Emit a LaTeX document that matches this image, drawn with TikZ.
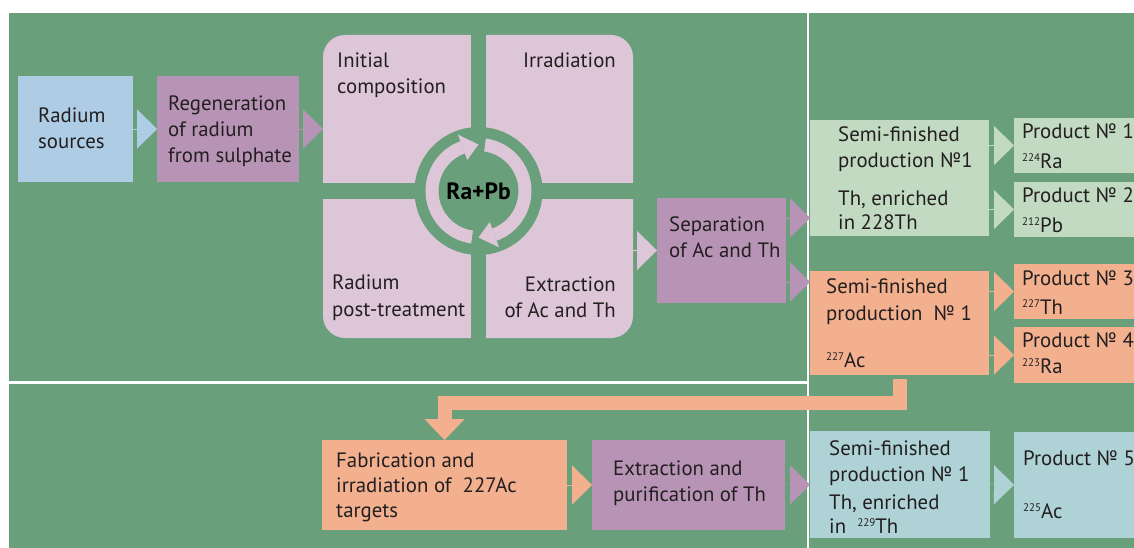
\documentclass[tikz,border=0pt]{standalone}
\usepackage{fontspec}
\setmainfont{PT Sans}
\usetikzlibrary{arrows.meta,calc,positioning}

\definecolor{bgGreen}{HTML}{699F7B}
\definecolor{blueC}{HTML}{AECCE4}
\definecolor{purpC}{HTML}{B794B6}
\definecolor{pinkC}{HTML}{DDC6D8}
\definecolor{mintC}{HTML}{C1DAC1}
\definecolor{orangeC}{HTML}{F2B08F}
\definecolor{tealC}{HTML}{AED2D6}
\definecolor{ink}{HTML}{231F20}

% small mass number in front of an element
\newcommand{\massno}[1]{\raisebox{6.5pt}{\fontsize{11}{11}\selectfont #1}}

\tikzset{
    box/.style={rectangle, fill=#1, inner sep=0pt, outer sep=0pt},
    txt/.style={inner sep=0pt, align=left, text=ink, font=\fontsize{20.8}{26}\selectfont},
    tri/.style={draw=#1, line width=0.1pt, -{Triangle[length=20pt, width=39pt, line width=0.01pt]}},
}

\begin{document}
\begin{tikzpicture}[x=1pt, y=-1pt]

    % --- Background ---
    \useasboundingbox (0,0) rectangle (1134,548);
    \fill[white] (0,0) rectangle (1134,548);
    \fill[bgGreen] (9,13) rectangle (1134,548);
    \draw[white, line width=2.2pt] (808,13) -- (808,548);
    \draw[white, line width=2.2pt] (9,382.5) -- (808,382.5);

    % --- Boxes ---
    \node[box=blueC, minimum width=115, minimum height=106] (src) at (75.5,129) {};
    \node[box=purpC, minimum width=142, minimum height=106] (regen) at (228,129) {};
    \node[box=pinkC, rounded corners=22pt, minimum width=310, minimum height=303] (cyc) at (478,186.5) {};
    \node[box=purpC, minimum width=129, minimum height=105] (sep) at (721.5,250.5) {};
    \node[box=mintC, minimum width=179, minimum height=116] (semi1) at (899.5,178) {};
    \node[box=mintC, minimum width=120, minimum height=55] (prod1) at (1074,145.5) {};
    \node[box=mintC, minimum width=120, minimum height=55] (prod2) at (1074,209.5) {};
    \node[box=orangeC, minimum width=179, minimum height=104] (semi2) at (899.5,323) {};
    \node[box=orangeC, minimum width=120, minimum height=55] (prod3) at (1074,291.5) {};
    \node[box=orangeC, minimum width=120, minimum height=56] (prod4) at (1074,355) {};
    \node[box=orangeC, minimum width=245, minimum height=90] (fab) at (444.5,485) {};
    \node[box=purpC, minimum width=193, minimum height=90] (extpur) at (688.5,485) {};
    \node[box=tealC, minimum width=180, minimum height=107] (semi3) at (900,484.5) {};
    \node[box=tealC, minimum width=120, minimum height=106] (prod5) at (1074,485) {};

    % --- Cycle (cross, disc and the two arrows) ---
    \coordinate (C) at (478.5,191);
    \fill[bgGreen] ([shift={(-7.5,-2)}]C |- cyc.north) rectangle ([shift={(7.5,2)}]C |- cyc.south);
    \fill[bgGreen] ([shift={(-2,-8)}]C -| cyc.west) rectangle ([shift={(2,8)}]C -| cyc.east);
    \fill[bgGreen] (C) circle[radius=64];
    \fill[pinkC] ($(C)+(98:53)$) arc[start angle=98, end angle=250, radius=53]
        -- ($(C)+(250:40)$) arc[start angle=250, end angle=98, radius=40] -- cycle;
    \fill[pinkC] ($(C)+(250:33)$) -- ($(C)+(250:60)$) -- ($(C)+(270:46.5)$) -- cycle;
    \fill[pinkC] ($(C)+(-82:53)$) arc[start angle=-82, end angle=70, radius=53]
        -- ($(C)+(70:40)$) arc[start angle=70, end angle=-82, radius=40] -- cycle;
    \fill[pinkC] ($(C)+(70:33)$) -- ($(C)+(70:60)$) -- ($(C)+(90:46.5)$) -- cycle;

    % --- Connectors ---
    \coordinate (sepUp) at ($(sep.north east)!.19!(sep.south east)$);
    \coordinate (sepDn) at ($(sep.north east)!.8!(sep.south east)$);
    \draw[tri=blueC] (src) -- (regen);
    \draw[tri=purpC] (regen.east) -- (regen.east -| cyc.west);
    \draw[tri=pinkC] (sep.west -| cyc.east) -- (sep.west);
    \draw[tri=purpC] (sepUp) -- (sepUp -| semi1.west);
    \draw[tri=purpC] (sepDn) -- (sepDn -| semi2.west);
    \draw[tri=mintC] (prod1.west -| semi1.east) -- (prod1.west);
    \draw[tri=mintC] (prod2.west -| semi1.east) -- (prod2.west);
    \draw[tri=orangeC] (prod3.west -| semi2.east) -- (prod3.west);
    \draw[tri=orangeC] (prod4.west -| semi2.east) -- (prod4.west);
    \draw[tri=orangeC] (fab) -- (extpur);
    \draw[tri=purpC] (extpur) -- (semi3);
    \draw[tri=tealC] (semi3) -- (prod5);

    % feedback of 227Ac to the targets
    \draw[orangeC, line width=14pt, -{Triangle[length=21pt, width=40pt, line width=0.01pt]}]
        ([yshift=-4pt]semi2.south) |- ([yshift=37pt]fab.north) -- (fab.north);

    % --- Texts (anchored at the baseline of the last line) ---
    \node[txt, anchor=base west] (srcT) at (38,149) {Radium\\sources};
    \node[txt, anchor=base west] (regenT) at (168,163) {Regeneration\\of radium\\from sulphate};
    \node[txt, anchor=base west] (iniT) at (337,94) {Initial\\composition};
    \node[txt, anchor=base east, align=right] (irrT) at (616,68) {Irradiation};
    \node[txt, anchor=base west] (postT) at (332,316) {Radium\\[1pt]post-treatment};
    \node[txt, anchor=base east, align=right] (extrT) at (616,317) {Extraction\\of Ac and Th};
    \node[txt, text=black, font=\fontsize{23.5}{26}\selectfont\bfseries] (rapb) at (C) {Ra+Pb};
    \node[txt, anchor=base west] (sepT) at (669,257) {Separation\\of Ac and Th};
    \node[txt, anchor=base west] (semi1T) at (838,229) {Semi-finished\\production №1\\[12pt]Th, enriched\\[-2pt]in 228Th};
    \node[txt, anchor=base west] (prod1T) at (1022,168) {Product № 1\\[3pt]\massno{224}Ra};
    \node[txt, anchor=base west] (prod2T) at (1022,232) {Product № 2\\[4pt]\massno{212}Pb};
    \node[txt, anchor=base west] (semi2T) at (826,367) {Semi-finished\\[1pt]production\ \ № 1\\[21pt]\massno{227}Ac};
    \node[txt, anchor=base west] (prod3T) at (1022,314) {Product № 3\\[3pt]\massno{227}Th};
    \node[txt, anchor=base west] (prod4T) at (1022,373) {Product № 4\\\massno{223}Ra};
    \node[txt, anchor=base west] (fabT) at (336,517) {Fabrication and\\[-1pt]irradiation of \ 227Ac\\[-1pt]targets};
    \node[txt, anchor=base west] (extpurT) at (613,501) {Extraction and\\purification of Th};
    \node[txt, anchor=base west] (semi3T) at (829,533) {Semi-finished\\production № 1\\[2pt]Th, enriched\\[-2pt]in \ \massno{229}Th};
    \node[txt, anchor=base west] (prod5T) at (1023,518) {Product № 5\\[27pt]\massno{225}Ac};

\end{tikzpicture}
\end{document}
